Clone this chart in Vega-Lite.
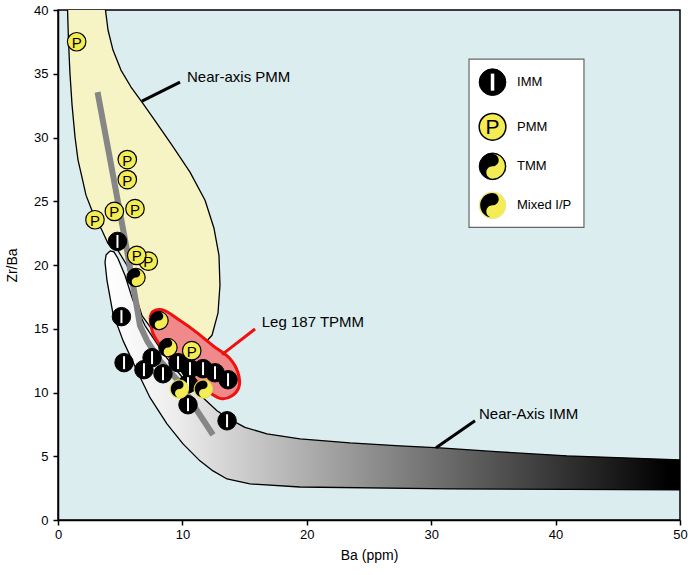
{
  "$schema": "https://vega.github.io/schema/vega-lite/v6.json",
  "width": 622,
  "height": 510,
  "autosize": {"type": "none"},
  "padding": {"left": 58, "top": 10, "right": 8, "bottom": 55},
  "background": "white",
  "config": {
    "font": "Liberation Sans",
    "view": {"fill": "#dcedf0", "stroke": "#000", "strokeWidth": 1.5},
    "axis": {
      "grid": false,
      "domainColor": "#000",
      "domainWidth": 1.5,
      "tickColor": "#000",
      "tickWidth": 1.5,
      "tickSize": 5,
      "labelColor": "#000",
      "titleColor": "#000",
      "labelFont": "Liberation Sans",
      "titleFont": "Liberation Sans",
      "labelFontSize": 13,
      "titleFontSize": 14,
      "titleFontWeight": "normal",
      "labelFlush": false,
      "labelOverlap": false,
      "labelBound": false
    }
  },
  "datasets": {
    "imm": [
      {"i": 1, "x": 4.18, "y": 21.1}, {"i": 2, "x": 4.5, "y": 21.03}, {"i": 3, "x": 4.82, "y": 20.51}, {"i": 4, "x": 5.39, "y": 19.17},
      {"i": 5, "x": 6.03, "y": 17.21}, {"i": 6, "x": 6.99, "y": 15.25}, {"i": 7, "x": 8.6, "y": 12.89},
      {"i": 8, "x": 10.21, "y": 10.92}, {"i": 9, "x": 11.66, "y": 9.59}, {"i": 10, "x": 12.78, "y": 8.57},
      {"i": 11, "x": 13.83, "y": 7.89}, {"i": 12, "x": 15.03, "y": 7.26}, {"i": 13, "x": 16.8, "y": 6.76},
      {"i": 14, "x": 19.45, "y": 6.37}, {"i": 15, "x": 23.47, "y": 6.05}, {"i": 16, "x": 27.49, "y": 5.82},
      {"i": 17, "x": 30.71, "y": 5.66}, {"i": 18, "x": 35.53, "y": 5.34}, {"i": 19, "x": 40.92, "y": 5.03},
      {"i": 20, "x": 50.5, "y": 4.7}, {"i": 21, "x": 50.5, "y": 2.36}, {"i": 22, "x": 31.51, "y": 2.44},
      {"i": 23, "x": 19.45, "y": 2.59}, {"i": 24, "x": 15.43, "y": 2.83}, {"i": 25, "x": 13.59, "y": 3.22},
      {"i": 26, "x": 12.46, "y": 3.85}, {"i": 27, "x": 11.41, "y": 4.64}, {"i": 28, "x": 10.05, "y": 5.97},
      {"i": 29, "x": 8.76, "y": 7.54}, {"i": 30, "x": 7.4, "y": 9.59}, {"i": 31, "x": 6.35, "y": 11.71},
      {"i": 32, "x": 5.23, "y": 14.07}, {"i": 33, "x": 4.42, "y": 16.19}, {"i": 34, "x": 3.94, "y": 18.78},
      {"i": 35, "x": 3.78, "y": 20.2}, {"i": 36, "x": 3.86, "y": 20.78}, {"i": 37, "x": 4.18, "y": 21.1}
    ],
    "pmm": [
      {"i": 1, "x": 0.75, "y": 40.6}, {"i": 2, "x": 3.74, "y": 40.6}, {"i": 3, "x": 4.02, "y": 38.43},
      {"i": 4, "x": 4.42, "y": 36.86}, {"i": 5, "x": 5.06, "y": 35.29}, {"i": 6, "x": 5.87, "y": 33.96},
      {"i": 7, "x": 6.75, "y": 32.78}, {"i": 8, "x": 7.88, "y": 31.21}, {"i": 9, "x": 9.16, "y": 29.4},
      {"i": 10, "x": 10.61, "y": 27.28}, {"i": 11, "x": 11.82, "y": 25.08}, {"i": 12, "x": 12.54, "y": 22.88},
      {"i": 13, "x": 12.94, "y": 20.76}, {"i": 14, "x": 13.02, "y": 18.41}, {"i": 15, "x": 12.86, "y": 16.22},
      {"i": 16, "x": 12.38, "y": 14.49}, {"i": 17, "x": 11.41, "y": 13.47}, {"i": 18, "x": 9.41, "y": 13.67},
      {"i": 19, "x": 7.8, "y": 14.62}, {"i": 20, "x": 6.75, "y": 16.03}, {"i": 21, "x": 6.11, "y": 18.0},
      {"i": 22, "x": 5.55, "y": 19.96}, {"i": 23, "x": 4.82, "y": 21.14}, {"i": 24, "x": 4.02, "y": 21.69},
      {"i": 25, "x": 3.54, "y": 22.71}, {"i": 26, "x": 2.73, "y": 24.28}, {"i": 27, "x": 2.25, "y": 25.48},
      {"i": 28, "x": 1.93, "y": 26.88}, {"i": 29, "x": 1.61, "y": 28.23}, {"i": 30, "x": 1.37, "y": 30.02},
      {"i": 31, "x": 1.13, "y": 32.54}, {"i": 32, "x": 0.96, "y": 35.05}, {"i": 33, "x": 0.84, "y": 37.64},
      {"i": 34, "x": 0.75, "y": 40.6}
    ],
    "tpmm": [
      {"i": 1, "x": 7.4, "y": 15.87}, {"i": 2, "x": 7.64, "y": 16.35}, {"i": 3, "x": 8.36, "y": 16.5},
      {"i": 4, "x": 9.81, "y": 15.64}, {"i": 5, "x": 11.17, "y": 14.7}, {"i": 6, "x": 12.46, "y": 13.67},
      {"i": 7, "x": 13.83, "y": 12.65}, {"i": 8, "x": 14.47, "y": 11.55}, {"i": 9, "x": 14.55, "y": 10.45},
      {"i": 10, "x": 13.99, "y": 9.74}, {"i": 11, "x": 13.18, "y": 9.51}, {"i": 12, "x": 12.22, "y": 9.98},
      {"i": 13, "x": 11.41, "y": 10.69}, {"i": 14, "x": 10.37, "y": 11.47}, {"i": 15, "x": 9.24, "y": 12.5},
      {"i": 16, "x": 8.36, "y": 13.52}, {"i": 17, "x": 7.64, "y": 14.62}, {"i": 18, "x": 7.4, "y": 15.87}
    ],
    "trend": [
      {"i": 1, "x": 3.18, "y": 33.56}, {"i": 2, "x": 5.55, "y": 21.14}, {"i": 3, "x": 6.11, "y": 18.0},
      {"i": 4, "x": 6.59, "y": 15.25}, {"i": 5, "x": 7.15, "y": 14.07}, {"i": 6, "x": 8.2, "y": 12.49},
      {"i": 7, "x": 9.81, "y": 10.77}, {"i": 8, "x": 11.09, "y": 8.72}, {"i": 9, "x": 12.46, "y": 6.68}
    ],
    "labels": [
      {"name": "Near-axis PMM", "x": 10.37, "y": 34.76, "x1": 6.75, "y1": 32.85, "x2": 9.81, "y2": 34.34, "g": "b"},
      {"name": "Leg 187 TPMM", "x": 16.38, "y": 15.53, "x1": 13.18, "y1": 12.97, "x2": 15.84, "y2": 14.98, "g": "r"},
      {"name": "Near-Axis IMM", "x": 33.84, "y": 8.33, "x1": 30.39, "y1": 5.66, "x2": 33.52, "y2": 7.78, "g": "b"}
    ],
    "pts": [
      {"x": 4.78, "y": 21.85, "t": "IMM"}, {"x": 5.1, "y": 15.95, "t": "IMM"}, {"x": 5.31, "y": 12.34, "t": "IMM"},
      {"x": 10.45, "y": 10.69, "t": "IMM"}, {"x": 6.91, "y": 11.79, "t": "IMM"}, {"x": 7.56, "y": 12.73, "t": "IMM"},
      {"x": 8.44, "y": 11.47, "t": "IMM"}, {"x": 9.65, "y": 12.34, "t": "IMM"}, {"x": 10.61, "y": 11.87, "t": "IMM"},
      {"x": 11.66, "y": 11.87, "t": "IMM"}, {"x": 12.62, "y": 11.55, "t": "IMM"}, {"x": 13.67, "y": 11.0, "t": "IMM"},
      {"x": 10.45, "y": 9.04, "t": "IMM"}, {"x": 13.59, "y": 7.78, "t": "IMM"},
      {"x": 1.5, "y": 37.51, "t": "PMM"}, {"x": 5.57, "y": 28.27, "t": "PMM"}, {"x": 5.57, "y": 26.7, "t": "PMM"},
      {"x": 2.97, "y": 23.55, "t": "PMM"}, {"x": 4.53, "y": 24.2, "t": "PMM"}, {"x": 6.19, "y": 24.42, "t": "PMM"},
      {"x": 7.26, "y": 20.3, "t": "PMM"}, {"x": 6.33, "y": 20.75, "t": "PMM"}, {"x": 10.75, "y": 13.28, "t": "PMM"},
      {"x": 6.27, "y": 19.02, "t": "TMM"}, {"x": 8.12, "y": 15.64, "t": "TMM"}, {"x": 8.84, "y": 13.52, "t": "TMM"},
      {"x": 9.75, "y": 10.27, "t": "Mixed"}, {"x": 11.68, "y": 10.27, "t": "Mixed"}
    ],
    "legbox": [{"x": 33.04, "x2": 42.28, "y": 36.15, "y2": 22.95}],
    "legitems": [
      {"x": 34.93, "tx": 36.9, "y": 34.34, "t": "IMM", "label": "IMM"},
      {"x": 34.93, "tx": 36.9, "y": 30.84, "t": "PMM", "label": "PMM"},
      {"x": 34.93, "tx": 36.9, "y": 27.74, "t": "TMM", "label": "TMM"},
      {"x": 34.93, "tx": 36.9, "y": 24.68, "t": "Mixed", "label": "Mixed  I/P"}
    ]
  },
  "encoding": {
    "x": {"field": "x", "type": "quantitative", "scale": {"domain": [0, 50], "nice": false, "zero": false},
      "axis": {"values": [0, 10, 20, 30, 40, 50], "title": "Ba (ppm)", "labelPadding": 3, "titlePadding": 7}},
    "y": {"field": "y", "type": "quantitative", "scale": {"domain": [0, 40], "nice": false, "zero": false},
      "axis": {"values": [0, 5, 10, 15, 20, 25, 30, 35, 40], "title": "Zr/Ba", "labelPadding": 5, "titlePadding": 14}}
  },
  "layer": [
    {
      "data": {"name": "imm"},
      "mark": {"type": "line", "interpolate": "linear", "clip": true, "stroke": "#000", "strokeWidth": 1.3, "strokeJoin": "round",
        "fill": {"gradient": "linear", "x1": 0, "y1": 0, "x2": 1, "y2": 0,
          "stops": [{"offset": 0, "color": "#ffffff"}, {"offset": 0.12, "color": "#ededed"}, {"offset": 0.97, "color": "#000000"}]}},
      "encoding": {"order": {"field": "i", "type": "quantitative"}}
    },
    {
      "data": {"name": "pmm"},
      "mark": {"type": "line", "interpolate": "linear", "clip": true, "stroke": "#000", "strokeWidth": 1.3, "strokeJoin": "round", "fill": "#f6f4c5"},
      "encoding": {"order": {"field": "i", "type": "quantitative"}}
    },
    {
      "data": {"name": "trend"},
      "mark": {"type": "line", "interpolate": "linear", "stroke": "#868686", "strokeWidth": 6, "strokeCap": "butt", "strokeJoin": "round"},
      "encoding": {"order": {"field": "i", "type": "quantitative"}}
    },
    {
      "data": {"name": "tpmm"},
      "mark": {"type": "line", "interpolate": "catmull-rom", "stroke": "#f01010", "strokeWidth": 3, "fill": "#f08a8a"},
      "encoding": {"order": {"field": "i", "type": "quantitative"}}
    },
    {
      "data": {"name": "labels"},
      "mark": {"type": "rule", "strokeWidth": 3},
      "encoding": {
        "x": {"field": "x1", "type": "quantitative"},
        "y": {"field": "y1", "type": "quantitative"},
        "x2": {"field": "x2"},
        "y2": {"field": "y2"},
        "color": {"field": "g", "type": "nominal", "scale": {"domain": ["b", "r"], "range": ["#000000", "#f01010"]}, "legend": null}
      }
    },
    {
      "data": {"name": "labels"},
      "mark": {"type": "text", "align": "left", "baseline": "middle", "fontSize": 15, "font": "Liberation Sans", "color": "#000"},
      "encoding": {"text": {"field": "name"}}
    },
    {
      "data": {"name": "pts"},
      "transform": [{"filter": "datum.t === 'IMM'"}],
      "mark": {"type": "point", "shape": "circle", "filled": true, "fill": "#000", "stroke": "#000", "strokeWidth": 1, "size": 342, "opacity": 1}
    },
    {
      "data": {"name": "pts"},
      "transform": [{"filter": "datum.t === 'IMM'"}],
      "mark": {"type": "point", "shape": "M0,-0.7L0,0.7", "filled": false, "stroke": "#fff", "strokeWidth": 2, "size": 342, "opacity": 1}
    },
    {
      "data": {"name": "pts"},
      "transform": [{"filter": "datum.t === 'TMM'"}],
      "mark": {"type": "point", "shape": "circle", "filled": true, "fill": "#000", "stroke": "#000", "strokeWidth": 1, "size": 342, "opacity": 1}
    },
    {
      "data": {"name": "pts"},
      "transform": [{"filter": "datum.t === 'TMM'"}],
      "mark": {"type": "point", "shape": "M0,-1A1,1,0,0,1,0,1A0.5,0.5,0,0,1,0,0A0.5,0.5,0,0,0,0,-1Z", "filled": true, "fill": "#f4ec55", "strokeWidth": 0, "size": 290, "opacity": 1}
    },
    {
      "data": {"name": "pts"},
      "transform": [{"filter": "datum.t === 'PMM'"}],
      "mark": {"type": "point", "shape": "circle", "filled": true, "fill": "#f4ec55", "stroke": "#000", "strokeWidth": 1.2, "size": 342, "opacity": 1}
    },
    {
      "data": {"name": "pts"},
      "transform": [{"filter": "datum.t === 'PMM'"}],
      "mark": {"type": "text", "text": "P", "fontSize": 15, "font": "Liberation Sans", "align": "center", "baseline": "middle", "dy": 1, "color": "#000"}
    },
    {
      "data": {"name": "pts"},
      "transform": [{"filter": "datum.t === 'Mixed'"}],
      "mark": {"type": "point", "shape": "circle", "filled": true, "fill": "#f4ec55", "stroke": "#e6de3a", "strokeWidth": 1, "size": 342, "opacity": 1}
    },
    {
      "data": {"name": "pts"},
      "transform": [{"filter": "datum.t === 'Mixed'"}],
      "mark": {"type": "point", "shape": "M0,-1A1,1,0,0,0,0,1A0.5,0.5,0,0,1,0,0A0.5,0.5,0,0,0,0,-1Z", "filled": true, "fill": "#000", "strokeWidth": 0, "size": 290, "opacity": 1}
    },
    {
      "data": {"name": "legbox"},
      "mark": {"type": "rect", "fill": "#fff", "stroke": "#666", "strokeWidth": 1.2},
      "encoding": {"x2": {"field": "x2"}, "y2": {"field": "y2"}}
    },
    {
      "data": {"name": "legitems"},
      "transform": [{"filter": "datum.t === 'IMM'"}],
      "mark": {"type": "point", "shape": "circle", "filled": true, "fill": "#000", "stroke": "#000", "strokeWidth": 1, "size": 712, "opacity": 1}
    },
    {
      "data": {"name": "legitems"},
      "transform": [{"filter": "datum.t === 'IMM'"}],
      "mark": {"type": "point", "shape": "M0,-0.64L0,0.64", "filled": false, "stroke": "#fff", "strokeWidth": 3.5, "size": 712, "opacity": 1}
    },
    {
      "data": {"name": "legitems"},
      "transform": [{"filter": "datum.t === 'PMM'"}],
      "mark": {"type": "point", "shape": "circle", "filled": true, "fill": "#f4ec55", "stroke": "#000", "strokeWidth": 1.5, "size": 712, "opacity": 1}
    },
    {
      "data": {"name": "legitems"},
      "transform": [{"filter": "datum.t === 'PMM'"}],
      "mark": {"type": "text", "text": "P", "fontSize": 21, "font": "Liberation Sans", "align": "center", "baseline": "middle", "dy": 1, "color": "#000"}
    },
    {
      "data": {"name": "legitems"},
      "transform": [{"filter": "datum.t === 'TMM'"}],
      "mark": {"type": "point", "shape": "circle", "filled": true, "fill": "#000", "stroke": "#000", "strokeWidth": 1, "size": 712, "opacity": 1}
    },
    {
      "data": {"name": "legitems"},
      "transform": [{"filter": "datum.t === 'TMM'"}],
      "mark": {"type": "point", "shape": "M0,-1A1,1,0,0,1,0,1A0.5,0.5,0,0,1,0,0A0.5,0.5,0,0,0,0,-1Z", "filled": true, "fill": "#f4ec55", "strokeWidth": 0, "size": 610, "opacity": 1}
    },
    {
      "data": {"name": "legitems"},
      "transform": [{"filter": "datum.t === 'Mixed'"}],
      "mark": {"type": "point", "shape": "circle", "filled": true, "fill": "#f4ec55", "stroke": "#ece890", "strokeWidth": 1, "size": 712, "opacity": 1}
    },
    {
      "data": {"name": "legitems"},
      "transform": [{"filter": "datum.t === 'Mixed'"}],
      "mark": {"type": "point", "shape": "M0,-1A1,1,0,0,0,0,1A0.5,0.5,0,0,1,0,0A0.5,0.5,0,0,0,0,-1Z", "filled": true, "fill": "#000", "strokeWidth": 0, "size": 610, "opacity": 1}
    },
    {
      "data": {"name": "legitems"},
      "mark": {"type": "text", "align": "left", "baseline": "middle", "fontSize": 13, "font": "Liberation Sans", "color": "#000"},
      "encoding": {"x": {"field": "tx", "type": "quantitative"}, "text": {"field": "label"}}
    }
  ]
}
